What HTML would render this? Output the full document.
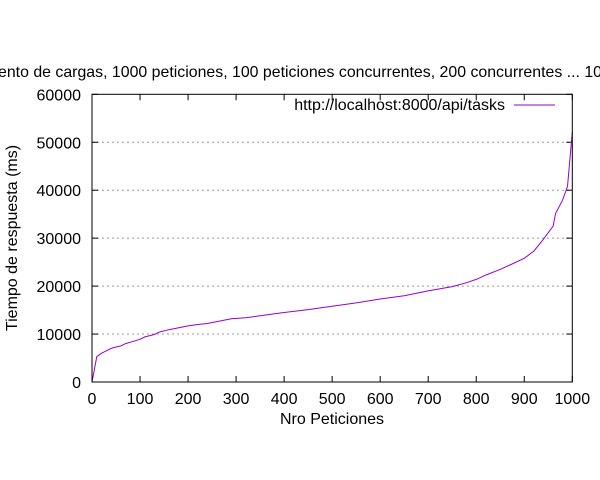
<!DOCTYPE html>
<html><head><meta charset="utf-8"><style>
html,body{margin:0;padding:0;background:#fff;}
svg{display:block;font-family:"Liberation Sans",Arial,sans-serif;}
</style></head><body>
<svg id="chart" width="600" height="480" viewBox="0 0 600 480">
<text x="-2" y="77" font-size="16" textLength="604" lengthAdjust="spacingAndGlyphs">ento de cargas, 1000 peticiones, 100 peticiones concurrentes, 200 concurrentes ... 10</text>
<g id="grid"></g>
<g id="axes"></g>
<path id="series" fill="none" stroke="#9400d3" stroke-width="1"></path>
<rect x="92" y="94.3" width="480.3" height="287.7" fill="none" stroke="#000" stroke-width="1"></rect>
<g>
<text x="505" y="110" font-size="16" text-anchor="end">http://localhost:8000/api/tasks</text>
<line x1="514" y1="105" x2="555" y2="105" stroke="#9400d3" stroke-width="1"></line>
</g>
<text x="332" y="424" font-size="16" text-anchor="middle">Nro Peticiones</text>
<text transform="translate(17,238) rotate(-90)" font-size="16" text-anchor="middle">Tiempo de respuesta (ms)</text>
</svg>
<script>
const xValues = [0,10,20,30,40,50,60,70,80,100,110,130,140,160,200,220,240,260,290,320,350,400,450,500,550,600,650,700,750,780,800,820,850,870,900,920,940,960,965,980,990,1000];
const yValues = [0,5300,6000,6500,7000,7300,7500,8000,8300,8900,9400,9900,10400,10900,11700,12000,12200,12600,13200,13400,13800,14500,15100,15800,16500,17300,18000,19000,19900,20700,21400,22300,23500,24400,25800,27300,29800,32500,35100,38000,40800,52100];
const xTicks = [0,100,200,300,400,500,600,700,800,900,1000];
const yTicks = [0,10000,20000,30000,40000,50000,60000];
const X0=92,X1=572.3,Y0=382,Y1=94.3;
const sx=v=>X0+(v-0)/1000*(X1-X0);
const sy=v=>Y0-(v/60000)*(Y0-Y1);
const NS='http://www.w3.org/2000/svg';
const grid=document.getElementById('grid'),axes=document.getElementById('axes');
function mk(t,a,p){const e=document.createElementNS(NS,t);for(const k in a)e.setAttribute(k,a[k]);p.appendChild(e);return e;}
yTicks.forEach(v=>{
  const y=sy(v);
  if(v>0&&v<60000){
    const g=mk('line',{x1:X0,x2:X1,y1:y,y2:y,stroke:'#999','stroke-dasharray':'2,3','stroke-width':1},grid);
    
    
  }
  const t1=mk('line',{x1:X0,x2:X0+6,y1:y,y2:y,stroke:'#000'},axes);
  
  
  const t2=mk('line',{x1:X1-6,x2:X1,y1:y,y2:y,stroke:'#000'},axes);
  
  
  const l=mk('text',{x:81,y:y+6,'font-size':16,'text-anchor':'end'},axes);
  l.textContent=v;
  
  
});
xTicks.forEach(v=>{
  const x=sx(v);
  const t1=mk('line',{x1:x,x2:x,y1:Y0,y2:Y0-6,stroke:'#000'},axes);
  
  
  const t2=mk('line',{x1:x,x2:x,y1:Y1,y2:Y1+6,stroke:'#000'},axes);
  
  
  const l=mk('text',{x:x,y:404,'font-size':16,'text-anchor':'middle'},axes);
  l.textContent=v;
  
  
});
document.getElementById('series').setAttribute('d',xValues.map((v,i)=>(i?'L':'M')+sx(v).toFixed(1)+','+sy(yValues[i]).toFixed(1)).join(''));
</script>
</body></html>
